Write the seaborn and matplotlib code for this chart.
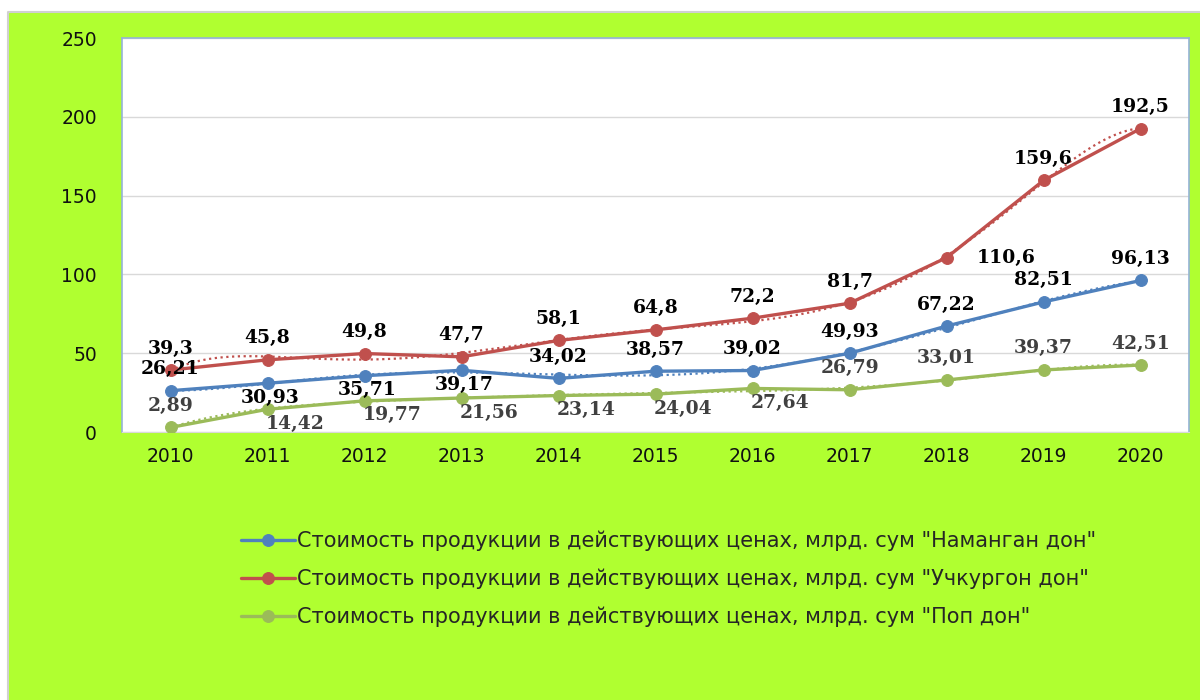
import numpy as np
import pandas as pd
import matplotlib
matplotlib.use("Agg")
import matplotlib.pyplot as plt
from matplotlib.patches import Rectangle
from matplotlib.lines import Line2D
import seaborn as sns

# ---------------------------------------------------------
# DATA
# ---------------------------------------------------------
years = [2010, 2011, 2012, 2013, 2014, 2015, 2016, 2017, 2018, 2019, 2020]
namangan = [26.21, 30.93, 35.71, 39.17, 34.02, 38.57, 39.02, 49.93, 67.22, 82.51, 96.13]
uchkurgon = [39.3, 45.8, 49.8, 47.7, 58.1, 64.8, 72.2, 81.7, 110.6, 159.6, 192.5]
pop = [2.89, 14.42, 19.77, 21.56, 23.14, 24.04, 27.64, 26.79, 33.01, 39.37, 42.51]

label_base = 'Стоимость продукции в действующих ценах, млрд. сум '
series_names = [label_base + '"Наманган дон"',
                label_base + '"Учкургон дон"',
                label_base + '"Поп дон"']

# label placement per point (a = above, b = below, br = below-right, r = right)
pos_namangan = ['a', 'b', 'b', 'b', 'a', 'a', 'a', 'a', 'a', 'a', 'a']
pos_uchkurgon = ['a', 'a', 'a', 'a', 'a', 'a', 'a', 'a', 'r', 'a', 'a']
pos_pop = ['a', 'br', 'br', 'br', 'br', 'br', 'br', 'a', 'a', 'a', 'a']

colors = ['#4F81BD', '#C0504D', '#9BBB59']
label_colors = ['black', 'black', '#404040']

# ---------------------------------------------------------
# PLOT
# ---------------------------------------------------------
sns.set_style("white")
plt.rcParams['font.family'] = ['DejaVu Sans']

fig = plt.figure(figsize=(12, 7), dpi=100, facecolor='white')
x0, y1 = 8 / 1200, 1 - 12 / 700
fig.patches.append(Rectangle((x0, 0), 1 - x0, y1, transform=fig.transFigure,
                             facecolor='#B0FF30', edgecolor='none', zorder=-10))
fig.lines.append(Line2D([x0, x0, 1], [0, y1, y1], transform=fig.transFigure,
                        color='#D0D0D0', linewidth=1.5, zorder=-9))
ax = fig.add_axes([122 / 1200, 1 - 432 / 700, (1189 - 122) / 1200, (432 - 38) / 700])
ax.set_zorder(1)
ax.set_facecolor('white')

all_values = [namangan, uchkurgon, pop]
all_pos = [pos_namangan, pos_uchkurgon, pos_pop]
handles = []
for vals, pos, name, col, lcol in zip(all_values, all_pos, series_names, colors, label_colors):
    df = pd.DataFrame({'year': years, 'value': vals})
    sns.lineplot(data=df, x='year', y='value', ax=ax, color=col, linewidth=2.4,
                 marker='o', markersize=8.5, markeredgecolor=col, label=name, zorder=3)
    handles.append(ax.get_lines()[-1])
    # polynomial trendline
    coef = np.polyfit(np.arange(len(years)), vals, 6)
    xs = np.linspace(0, len(years) - 1, 200)
    ax.plot(np.array(years[0]) + xs, np.polyval(coef, xs), linestyle=(0, (1, 1.6)),
            color=col, linewidth=1.6, zorder=2)
    for x, v, p in zip(years, vals, pos):
        txt = f'{v:g}'.replace('.', ',')
        if p == 'a':
            off, ha, va = (0, 9), 'center', 'bottom'
        elif p == 'b':
            off, ha, va = (2, -4), 'center', 'top'
        elif p == 'br':
            off, ha, va = (20, -4), 'center', 'top'
        else:
            off, ha, va = (22, 0), 'left', 'center'
        ax.annotate(txt, (x, v), xytext=off, textcoords='offset points', ha=ha, va=va,
                    fontsize=13.5, fontweight='bold', family='DejaVu Serif',
                    color=lcol, zorder=4)

ax.set_xlim(years[0] - 0.5, years[-1] + 0.5)
ax.set_ylim(0, 250)
ax.set_xticks(years)
ax.set_yticks([0, 50, 100, 150, 200, 250])
ax.set_xlabel('')
ax.set_ylabel('')
ax.yaxis.grid(True, color='#D9D9D9', linewidth=1)
ax.set_axisbelow(True)
ax.tick_params(axis='both', length=0, labelsize=13.5, colors='#111111')
ax.tick_params(axis='x', pad=11)
ax.tick_params(axis='y', pad=18)
for s in ['left', 'top', 'right']:
    ax.spines[s].set_color('#95B3D7')
    ax.spines[s].set_linewidth(1.2)
ax.spines['bottom'].set_color('#D9D9D9')
ax.get_legend().remove()

fig.legend(handles=handles, labels=series_names, loc='upper left',
           bbox_to_anchor=(222 / 1200, 1 - 512 / 700), frameon=False,
           fontsize=15, labelspacing=0.84, handlelength=2.6, handletextpad=0.1)

fig.savefig('out.png', dpi=100, facecolor=fig.get_facecolor())
